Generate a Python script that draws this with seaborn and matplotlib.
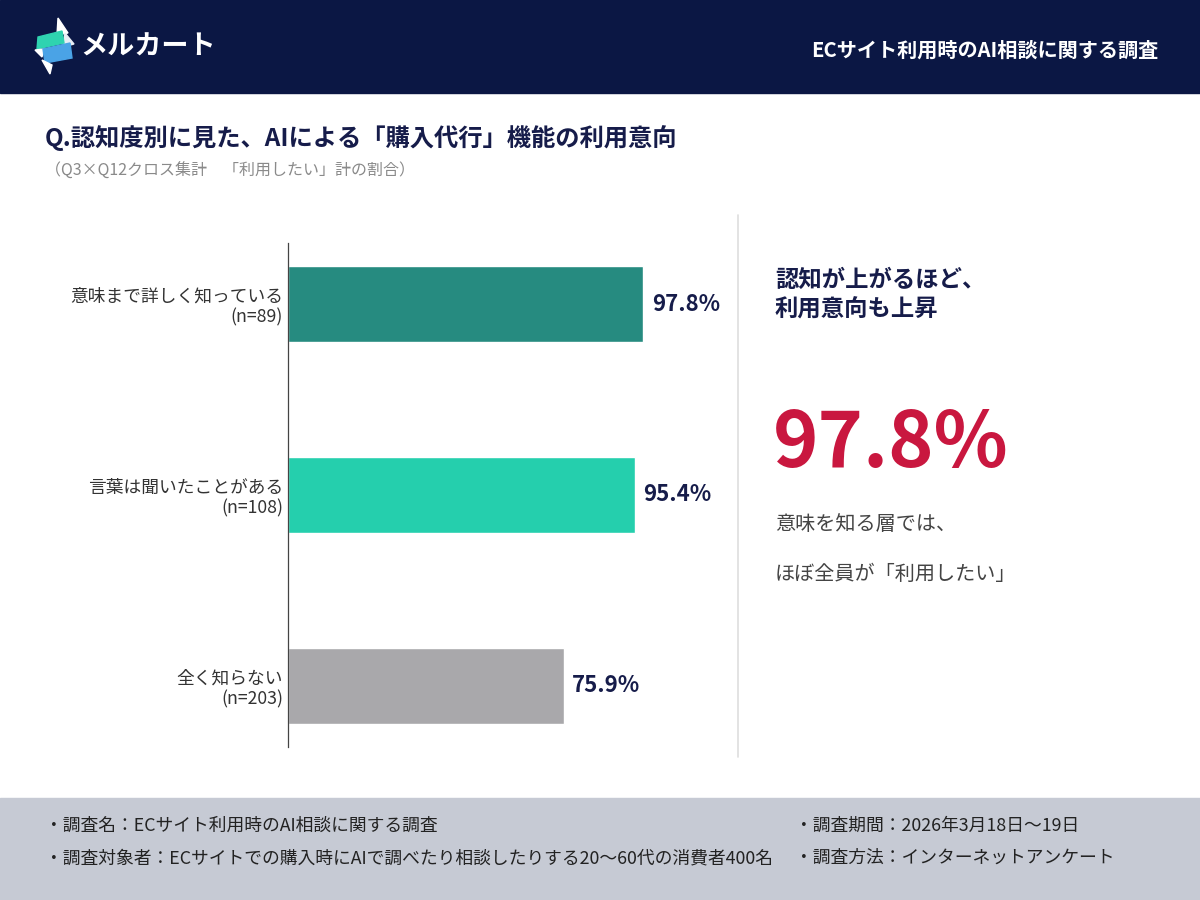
import matplotlib
matplotlib.use("Agg")
import matplotlib.pyplot as plt
import seaborn as sns
import pandas as pd
from matplotlib.patches import Rectangle, Polygon
from matplotlib.lines import Line2D

# data
groups = ["意味まで詳しく知っている", "言葉は聞いたことがある", "全く知らない"]
sizes = [89, 108, 203]
rates = [97.8, 95.4, 75.9]
bar_colors = ["#268b80", "#25cfad", "#a9a8ab"]

NAVY = "#161c4a"
HEADER = "#0b1744"
RED = "#c9173f"

sns.set_theme(style="white")
plt.rcParams["font.family"] = ["Noto Sans CJK JP", "DejaVu Sans"]

W, H = 1200, 900
fig = plt.figure(figsize=(12, 9), dpi=100)
fig.patch.set_facecolor("white")


def px(x, y):
    return x / W, 1 - y / H


# header band
fig.add_artist(Rectangle(px(0, 93), 1, 93 / H, transform=fig.transFigure,
                         color=HEADER, zorder=0))
# rough logo mark
logo = [
    ([(58, 18), (68, 33), (57, 35)], "white"),
    ([(65, 33), (74, 44), (63, 47)], "#e8eef5"),
    ([(38, 37), (62, 31), (64, 43), (37, 49)], "#2fd3b0"),
    ([(35, 50), (44, 49), (42, 57)], "white"),
    ([(43, 49), (70, 43), (72, 58), (45, 63)], "#4aa3e6"),
    ([(42, 60), (52, 65), (50, 74)], "white"),
]
for pts, c in logo:
    fig.add_artist(Polygon([px(*p) for p in pts], closed=True,
                           transform=fig.transFigure, color=c, zorder=1))
fig.text(*px(80, 47), "メルカート", color="white", fontsize=19.5,
         fontweight="bold", va="center", ha="left")
fig.text(*px(1158, 50), "ECサイト利用時のAI相談に関する調査", color="white",
         fontsize=14.5, fontweight="bold", va="center", ha="right")

# titles
fig.text(*px(45, 138), "Q.認知度別に見た、AIによる「購入代行」機能の利用意向",
         color=NAVY, fontsize=17.5, fontweight="bold", va="center")
fig.text(*px(45, 171), "（Q3×Q12クロス集計　「利用したい」計の割合）",
         color="#8a8a8a", fontsize=11.5, va="center")

# bar chart
df = pd.DataFrame({
    "label": [f"{g}\n(n={n})" for g, n in zip(groups, sizes)],
    "rate": rates,
})
ax = fig.add_axes([288 / W, 1 - 747 / H, 436 / W, 504 / H])
sns.barplot(data=df, x="rate", y="label", hue="label", palette=bar_colors,
            width=0.4, legend=False, saturation=1, ax=ax)
ax.set_xlim(0, 120)
ax.set_ylim(2.32, -0.32)
ax.set_xlabel("")
ax.set_ylabel("")
ax.set_xticks([])
ax.tick_params(axis="y", length=0, pad=3.5, labelsize=12.75, labelcolor="#333333")
for t in ax.get_yticklabels():
    t.set_linespacing(1.15)
for s in ["top", "right", "bottom"]:
    ax.spines[s].set_visible(False)
ax.spines["left"].set_color("#444444")
ax.spines["left"].set_linewidth(0.9)
ax.set_facecolor("none")

for i, v in enumerate(rates):
    ax.annotate(f"{v:.1f}%", (v, i), xytext=(6, 0), textcoords="offset points",
                va="center", ha="left", fontsize=16, fontweight="bold",
                color=NAVY)

# divider
fig.add_artist(Line2D([738 / W, 738 / W], [1 - 215 / H, 1 - 757 / H],
                      transform=fig.transFigure, color="#dedede", lw=1.2))

# right panel
fig.text(*px(775, 295), "認知が上がるほど、\n利用意向も上昇", color=NAVY,
         fontsize=16.8, fontweight="bold", va="center", linespacing=1.3)
fig.text(*px(773, 444), f"{rates[0]:.1f}%", color=RED, fontsize=55.5,
         fontweight="bold", va="center")
fig.text(*px(775, 524), "意味を知る層では、", color="#444444", fontsize=14.5,
         va="center")
fig.text(*px(775, 574), "ほぼ全員が「利用したい」", color="#444444",
         fontsize=14.5, va="center")

# footer band
fig.add_artist(Rectangle((0, 0), 1, 102 / H, transform=fig.transFigure,
                         color="#c6cad4", zorder=0))
foot_left = ["・調査名：ECサイト利用時のAI相談に関する調査",
             "・調査対象者：ECサイトでの購入時にAIで調べたり相談したりする20〜60代の消費者400名"]
foot_right = ["・調査期間：2026年3月18日〜19日", "・調査方法：インターネットアンケート"]
for j, (a, b) in enumerate(zip(foot_left, foot_right)):
    y = 826 + 32 * j
    fig.text(*px(45, y), a, color="#222222", fontsize=12.8, va="center")
    fig.text(*px(795, y), b, color="#222222", fontsize=12.8, va="center")

fig.savefig("out.png", dpi=100)
